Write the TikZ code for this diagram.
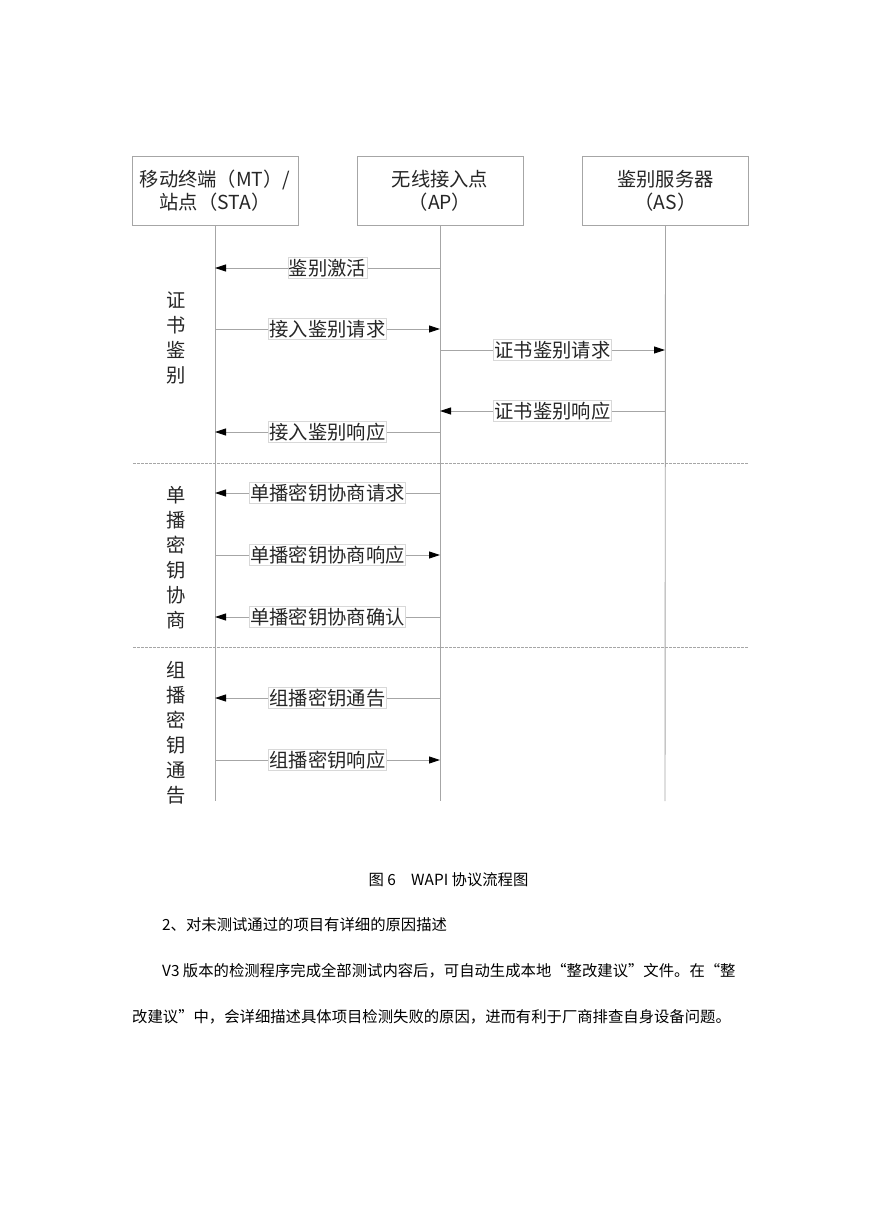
\documentclass[tikz,border=0pt]{standalone}
\usepackage{fontspec}
\setmainfont{Noto Sans CJK SC}
\usetikzlibrary{arrows.meta}
\definecolor{linegray}{HTML}{A6A6A6}
\definecolor{lblgray}{HTML}{D8D8D8}
\newcommand\diagfont{\fontsize{19.3}{23}\selectfont}
\newcommand\vfont{\fontsize{19.3}{25}\selectfont}
\newcommand\bodyfont{\fontsize{15.35}{18}\selectfont}
\begin{document}
\begin{tikzpicture}[x=1pt,y=-1pt,
  box/.style={draw=linegray,line width=0.9pt,minimum width=166pt,minimum height=69pt,align=center,font=\diagfont,text=black!85,inner sep=0pt},
  life/.style={draw=linegray,line width=0.9pt},
  msg/.style={draw=linegray,line width=0.9pt,-{Triangle[length=11pt,width=7pt,color=black]}},
  lbl/.style={fill=white,draw=lblgray,line width=0.6pt,inner xsep=1pt,inner ysep=1.5pt,font=\diagfont,text=black!85},
  sep/.style={draw=linegray,line width=0.7pt,dash pattern=on 2.5pt off 1.5pt},
  vlbl/.style={align=center,font=\vfont,text=black!85,inner sep=0pt},
  body/.style={font=\bodyfont,text=black,inner sep=0pt}
]
\useasboundingbox (0,0) rectangle (869,1228);
\fill[white] (0,0) rectangle (869,1228);

% header boxes
\node[box] (mt) at (215,190.5) {移动终端（MT）/\\站点（STA）};
\node[box] (ap) at (440,190.5) {无线接入点\\（AP）};
\node[box] (as) at (665.5,190.5) {鉴别服务器\\（AS）};

% lifelines
\coordinate (mtE) at (215,801);
\coordinate (apE) at (440,801);
\coordinate (asE) at (665,801);
\draw[life] (mt.south) -- (mtE);
\draw[life] (ap.south) -- (apE);
\draw[life] (as.south) -- (asE);

% separators
\coordinate (s1a) at (133,463); \coordinate (s1b) at (748,463);
\coordinate (s2a) at (133,647); \coordinate (s2b) at (748,647);
\draw[sep] (s1a) -- (s1b);
\draw[sep] (s2a) -- (s2b);

% message anchor points
\foreach \n/\y in {1/268,2/329,3/350,4/411,5/432,6/493,7/555,8/617,9/698,10/760}{
  \coordinate (m\n) at (215,\y);
  \coordinate (a\n) at (440,\y);
  \coordinate (s\n) at (665,\y);
}

\draw[msg] (a1) -- node[lbl] (l1) {鉴别激活} (m1);
\draw[msg] (m2) -- node[lbl] (l2) {接入鉴别请求} (a2);
\draw[msg] (a3) -- node[lbl] (l3) {证书鉴别请求} (s3);
\draw[msg] (s4) -- node[lbl] (l4) {证书鉴别响应} (a4);
\draw[msg] (a5) -- node[lbl] (l5) {接入鉴别响应} (m5);
\draw[msg] (a6) -- node[lbl] (l6) {单播密钥协商请求} (m6);
\draw[msg] (m7) -- node[lbl] (l7) {单播密钥协商响应} (a7);
\draw[msg] (a8) -- node[lbl] (l8) {单播密钥协商确认} (m8);
\draw[msg] (a9) -- node[lbl] (l9) {组播密钥通告} (m9);
\draw[msg] (m10) -- node[lbl] (l10) {组播密钥响应} (a10);

% phase labels
\node[vlbl] (p1) at (176,337.5) {证\\书\\鉴\\别};
\node[vlbl] (p2) at (176,557.5) {单\\播\\密\\钥\\协\\商};
\node[vlbl] (p3) at (176,732.5) {组\\播\\密\\钥\\通\\告};

% caption and body text
\node[body] (cap) at (448.5,880) {图 6\hspace{1em}WAPI 协议流程图};
\node[body,anchor=west] (t1) at (162,925) {2、对未测试通过的项目有详细的原因描述};
\node[body,anchor=west] (t2) at (162,971) {V3 版本的检测程序完成全部测试内容后，可自动生成本地“整改建议”文件。在“整};
\node[body,anchor=west] (t3) at (132,1017) {改建议”中，会详细描述具体项目检测失败的原因，进而有利于厂商排查自身设备问题。};
\end{tikzpicture}
\end{document}
